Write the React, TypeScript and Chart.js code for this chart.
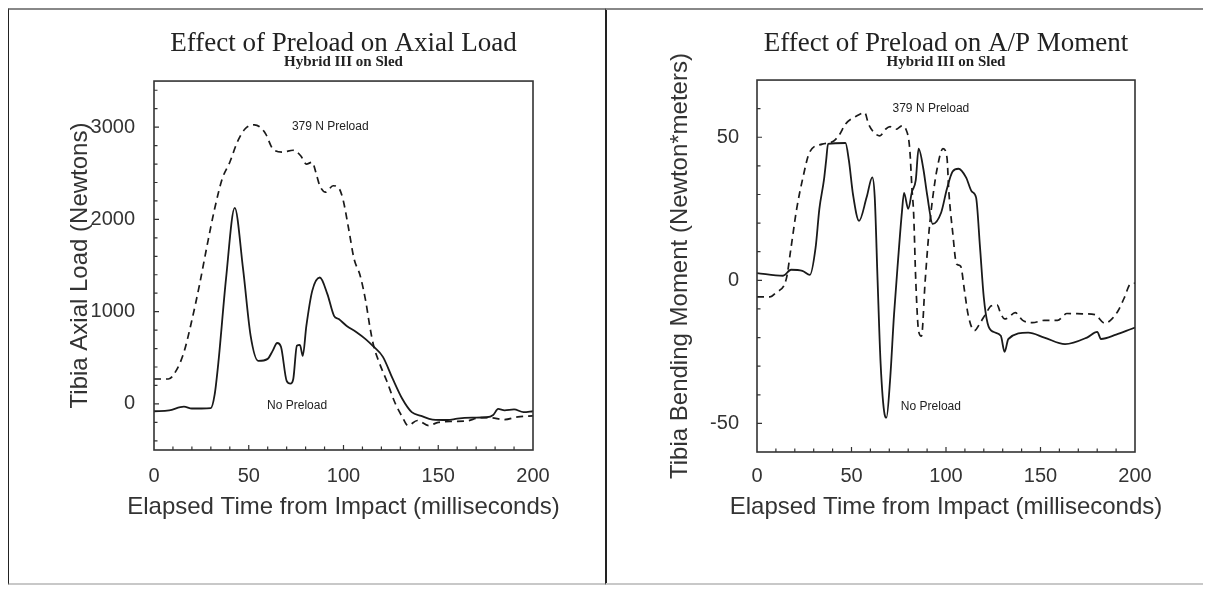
import React, { useEffect, useRef } from 'react';
import { Chart, registerables } from 'chart.js';

Chart.register(...registerables);

// ---------- data ----------
const xTickValues = [0, 50, 100, 150, 200];
const axialTickValues = [0, 1000, 2000, 3000];
const momentTickValues = [-50, 0, 50];

const axialTitle = 'Effect of Preload on Axial Load';
const momentTitle = 'Effect of Preload on A/P Moment';
const subTitle = 'Hybrid III on Sled';
const xAxisTitle = 'Elapsed Time from Impact (milliseconds)';
const axialYTitle = 'Tibia Axial Load (Newtons)';
const momentYTitle = 'Tibia Bending Moment (Newton*meters)';
const seriesNames = ['No Preload', '379 N Preload'];

// Axial load, no preload (solid)
const axialNoPreT = [0, 8, 15.8, 20, 25, 30, 32, 34, 38, 42.6, 47, 51, 55, 60, 62.6, 65, 67, 70, 72, 73.5, 75.4, 77, 78.5, 80.4, 83.5, 87.5, 91.5, 95, 97.5, 101.7, 106.7, 111.8, 115.9, 120.8, 126, 131, 136, 141, 147, 155, 160, 168, 175.5, 179, 181.6, 185, 190, 195, 200];
const axialNoPreV = [-80, -70, -30, -50, -50, -45, 100, 455, 1355, 2125, 1463, 737, 466, 488, 575, 660, 620, 250, 220, 270, 630, 640, 520, 845, 1225, 1370, 1190, 955, 920, 845, 780, 700, 620, 510, 270, 55, -90, -130, -170, -175, -160, -150, -145, -120, -55, -70, -60, -90, -80];

// Axial load, 379 N preload (dashed)
const axialPreT = [0, 7.6, 11.7, 15.8, 19.8, 23.9, 28, 32, 36, 40, 44, 48, 53, 56, 59, 62.7, 68, 73.4, 77.4, 80.4, 83.5, 85.4, 87.5, 90.6, 94.5, 97.5, 99.7, 102.7, 105.6, 108.8, 111.8, 113.8, 115.9, 118.8, 123, 127, 131, 134, 139, 145, 150, 158, 165, 172, 177, 185, 192, 200];
const axialPreV = [270, 270, 360, 560, 890, 1280, 1715, 2115, 2440, 2620, 2840, 2980, 3025, 3000, 2925, 2765, 2730, 2750, 2690, 2600, 2620, 2510, 2365, 2295, 2365, 2340, 2220, 1900, 1570, 1390, 1105, 850, 630, 450, 240, 20, -140, -235, -180, -235, -200, -190, -185, -150, -150, -170, -140, -130];

// A/P moment, no preload (solid)
const momNoPreT = [0, 13.8, 18, 24, 28, 31, 33, 35.4, 36.6, 37.6, 46.8, 48.6, 50.8, 54, 58, 61, 62.3, 63.8, 65.4, 67.5, 68.5, 70.4, 72.5, 74.6, 76.7, 77.8, 80, 82, 84, 85.5, 88, 90, 93, 97.4, 100.5, 103.5, 106.6, 110.6, 113.7, 115.9, 118, 120, 122, 125, 129, 131, 133, 143.5, 152, 163, 174.6, 180, 182, 190, 198, 200];
const momNoPreV = [2.5, 1.6, 3.7, 3.3, 1.9, 11.4, 25, 35, 42, 47.7, 48, 42, 30, 20.8, 29, 36, 29, 0, -29, -46.8, -48, -35, -12, 6.8, 24, 30.6, 25, 31, 35, 46, 39, 30, 19.7, 23.6, 32, 38, 39, 36, 31, 29, 11.5, -6, -15, -18, -19.4, -25, -20.5, -18.3, -20, -22.3, -20, -18, -20.5, -19, -17, -16.5];

// A/P moment, 379 N preload (dashed)
const momPreT = [0, 6.8, 10, 15.5, 18, 21, 24, 28, 34.5, 40.6, 43.7, 46.8, 52.9, 57, 59, 62, 65, 68, 70.4, 73.5, 76.7, 78.8, 80.8, 82, 82.9, 84, 85.5, 87, 89, 91, 93, 95.3, 98.4, 100.5, 101.5, 103.5, 105.6, 107.7, 109.8, 111.7, 115, 118, 121, 124, 127, 129, 131, 133, 136.6, 140.6, 145.8, 152, 159, 164, 172, 178.8, 184, 187, 191, 194.4, 197.5, 200];
const momPreV = [-5.8, -5.8, -4.3, 0.5, 11.4, 25, 35, 45, 47.6, 48.7, 51, 54.6, 57.5, 58.6, 54.6, 51.6, 50.5, 52.8, 53.7, 52.8, 54, 52.8, 46, 32, 23, 0, -17.7, -19.5, 0, 17, 29, 39, 46, 43, 31, 17, 5.7, 5, -3.7, -12, -17.6, -15, -11.7, -8.9, -8.6, -11.7, -13.5, -13, -11.3, -14, -14.8, -14, -14, -11.6, -11.7, -12, -15, -14, -10.7, -6, -1.3, -1];

// annotation anchors (data coordinates)
const axialNotes = [
  { text: '379 N Preload', x: 93, y: 3000 },
  { text: 'No Preload', x: 75.5, y: -20 },
];
const momentNotes = [
  { text: '379 N Preload', x: 92, y: 60 },
  { text: 'No Preload', x: 92, y: -44 },
];

// ---------- helpers ----------
const zip = (t: number[], v: number[]) => t.map((x, i) => ({ x, y: v[i] }));
const SANS = '"Liberation Sans", Arial, sans-serif';
const SERIF = '"Liberation Serif", "Times New Roman", serif';
const INK = '#222';

type Spec = {
  title: string;
  yTitle: string;
  yMin: number;
  yMax: number;
  yTicks: number[];
  yMinorStep: number;
  solid: { x: number; y: number }[];
  dashed: { x: number; y: number }[];
  notes: { text: string; x: number; y: number }[];
  w: number;
  h: number;
  left: number;
  top: number;
  yAxisWidth: number;
  xAxisHeight: number;
  rightPad: number;
  subPadBottom: number;
  xTickPad: number;
  yTickPad: number;
  yTitleX: number;
  xTitleY: number;
};

function makeDecor(spec: Spec) {
  return {
    id: 'decor',
    afterDraw(chart: any) {
      const { ctx, chartArea } = chart;
      const { left, right, top, bottom } = chartArea;
      const xs = chart.scales.x;
      const ys = chart.scales.y;
      ctx.save();
      // frame
      ctx.strokeStyle = '#333';
      ctx.lineWidth = 1.6;
      ctx.strokeRect(left, top, right - left, bottom - top);
      // inward tick marks
      ctx.lineWidth = 1.2;
      ctx.beginPath();
      for (let v = 10; v < 200; v += 10) {
        const px = xs.getPixelForValue(v);
        const len = v % 50 === 0 ? 5 : 3.5;
        ctx.moveTo(px, bottom);
        ctx.lineTo(px, bottom - len);
      }
      const start = Math.ceil(spec.yMin / spec.yMinorStep) * spec.yMinorStep;
      for (let v = start; v < spec.yMax; v += spec.yMinorStep) {
        if (v <= spec.yMin) continue;
        const py = ys.getPixelForValue(v);
        const len = spec.yTicks.includes(v) ? 5 : 3.5;
        ctx.moveTo(left, py);
        ctx.lineTo(left + len, py);
      }
      ctx.stroke();
      // annotations
      ctx.fillStyle = INK;
      ctx.font = `12px ${SANS}`;
      ctx.textAlign = 'center';
      ctx.textBaseline = 'middle';
      spec.notes.forEach((n) => {
        ctx.fillText(n.text, xs.getPixelForValue(n.x), ys.getPixelForValue(n.y));
      });
      // axis titles
      ctx.fillStyle = '#333';
      ctx.font = `24px ${SANS}`;
      ctx.fillText(xAxisTitle, (left + right) / 2, spec.xTitleY);
      ctx.translate(spec.yTitleX, (top + bottom) / 2);
      ctx.rotate(-Math.PI / 2);
      ctx.fillText(spec.yTitle, 0, 0);
      ctx.restore();
    },
  };
}

function Panel({ spec }: { spec: Spec }) {
  const ref = useRef<HTMLCanvasElement | null>(null);
  useEffect(() => {
    if (!ref.current) return;
    const chart = new Chart(ref.current, {
      type: 'line',
      data: {
        datasets: [
          {
            label: seriesNames[0],
            data: spec.solid,
            borderColor: '#1a1a1a',
            borderWidth: 1.8,
            pointRadius: 0,
            cubicInterpolationMode: 'monotone',
            fill: false,
          },
          {
            label: seriesNames[1],
            data: spec.dashed,
            borderColor: '#1a1a1a',
            borderWidth: 1.7,
            borderDash: [7, 5],
            pointRadius: 0,
            cubicInterpolationMode: 'monotone',
            fill: false,
          },
        ],
      },
      options: {
        animation: false,
        responsive: false,
        events: [],
        layout: { padding: { left: 0, top: 0, right: spec.rightPad, bottom: 0 } },
        scales: {
          x: {
            type: 'linear',
            min: 0,
            max: 200,
            afterBuildTicks: (s: any) => {
              s.ticks = xTickValues.map((v) => ({ value: v }));
            },
            afterFit: (s: any) => {
              s.height = spec.xAxisHeight;
            },
            grid: { display: false },
            border: { display: false },
            ticks: {
              color: '#333',
              padding: spec.xTickPad,
              maxRotation: 0,
              font: { family: SANS, size: 20 },
              callback: (v: any) => String(v),
            },
          },
          y: {
            type: 'linear',
            min: spec.yMin,
            max: spec.yMax,
            afterBuildTicks: (s: any) => {
              s.ticks = spec.yTicks.map((v) => ({ value: v }));
            },
            afterFit: (s: any) => {
              s.width = spec.yAxisWidth;
            },
            grid: { display: false },
            border: { display: false },
            ticks: {
              color: '#333',
              padding: spec.yTickPad,
              font: { family: SANS, size: 20 },
              callback: (v: any) => String(v),
            },
          },
        },
        plugins: {
          legend: { display: false },
          tooltip: { enabled: false },
          title: {
            display: true,
            text: spec.title,
            fullSize: false,
            color: INK,
            font: { family: SERIF, size: 27, weight: 'normal', lineHeight: 0.9 },
            padding: { top: 21.85, bottom: 0 },
          },
          subtitle: {
            display: true,
            text: subTitle,
            fullSize: false,
            color: INK,
            font: { family: SERIF, size: 15, weight: 'bold', lineHeight: 0.75 },
            padding: { top: 0, bottom: spec.subPadBottom },
          },
        },
      },
      plugins: [makeDecor(spec)],
    } as any);
    return () => chart.destroy();
  }, [spec]);
  return (
    <canvas
      ref={ref}
      width={spec.w}
      height={spec.h}
      style={{ position: 'absolute', left: spec.left, top: spec.top, width: spec.w, height: spec.h }}
    />
  );
}

const axialSpec: Spec = {
  title: axialTitle,
  yTitle: axialYTitle,
  yMin: -500,
  yMax: 3500,
  yTicks: axialTickValues,
  yMinorStep: 200,
  solid: zip(axialNoPreT, axialNoPreV),
  dashed: zip(axialPreT, axialPreV),
  notes: axialNotes,
  w: 594,
  h: 570,
  left: 1,
  top: 2,
  yAxisWidth: 145,
  xAxisHeight: 130,
  rightPad: 70,
  subPadBottom: 13.65,
  xTickPad: 6,
  yTickPad: 11,
  yTitleX: 71,
  xTitleY: 497,
};

const momentSpec: Spec = {
  title: momentTitle,
  yTitle: momentYTitle,
  yMin: -60,
  yMax: 70,
  yTicks: momentTickValues,
  yMinorStep: 10,
  solid: zip(momNoPreT, momNoPreV),
  dashed: zip(momPreT, momPreV),
  notes: momentNotes,
  w: 598,
  h: 570,
  left: 599,
  top: 2,
  yAxisWidth: 150,
  xAxisHeight: 128,
  rightPad: 70,
  subPadBottom: 12.65,
  xTickPad: 4,
  yTickPad: 10,
  yTitleX: 73,
  xTitleY: 497,
};

export default function App() {
  const panelBase: React.CSSProperties = {
    position: 'absolute',
    top: 0,
    height: 577,
    boxSizing: 'border-box',
    borderLeft: '1.5px solid #222',
    borderRight: '1.5px solid #222',
    borderTop: '2px solid #888',
    borderBottom: '2px solid #c8c8c8',
  };
  return (
    <div style={{ position: 'relative', width: 1199, height: 577, background: '#fff' }}>
      <div style={{ ...panelBase, left: 0, width: 599 }} />
      <div style={{ ...panelBase, left: 597, width: 602 }} />
      <Panel spec={axialSpec} />
      <Panel spec={momentSpec} />
    </div>
  );
}
